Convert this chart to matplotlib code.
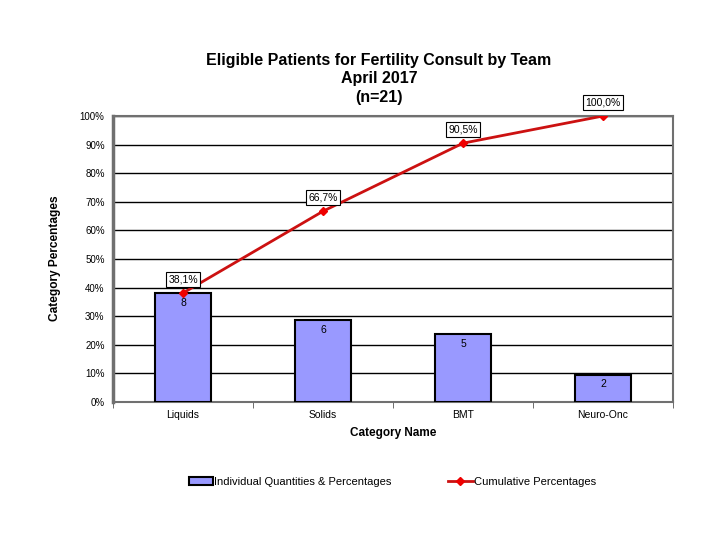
import matplotlib
matplotlib.use("Agg")
import matplotlib.pyplot as plt
import numpy as np

categories = ["Liquids", "Solids", "BMT", "Neuro-Onc"]
counts = [8, 6, 5, 2]
total = 21
pct = [c / total * 100 for c in counts]
cum_pct = [38.1, 66.7, 90.5, 100.0]
cum_labels = ["38,1%", "66,7%", "90,5%", "100,0%"]
yticks = [0, 10, 20, 30, 40, 50, 60, 70, 80, 90, 100]

plt.rcParams['font.family'] = ['Liberation Sans', 'DejaVu Sans']

fig = plt.figure(figsize=(7.2, 5.4), dpi=100)
ax = fig.add_axes([113/720, 1 - 402/540, 560/720, 286/540])

x = np.arange(len(categories))
bars = ax.bar(x, pct, width=0.4, color="#9999FF", edgecolor="black", linewidth=1.5,
              label="Individual Quantities & Percentages", zorder=3)
line, = ax.plot(x, cum_pct, color="#CC1111", linewidth=2, marker="D", markersize=4,
                markerfacecolor="#EE0000", markeredgecolor="#EE0000",
                label="Cumulative Percentages", zorder=4)

for xi, p, c in zip(x, pct, counts):
    ax.annotate(str(c), (xi, p), xytext=(0, -7), textcoords="offset points",
                ha="center", va="center", fontsize=7.5, zorder=5)

for xi, v, lab in zip(x, cum_pct, cum_labels):
    ax.annotate(lab, (xi, v), xytext=(0, 10), textcoords="offset points",
                ha="center", va="center", fontsize=7.5, zorder=6,
                bbox=dict(boxstyle="square,pad=0.25", facecolor="white", edgecolor="black", linewidth=0.8))

ax.set_xlim(-0.5, len(categories) - 0.5)
ax.set_ylim(0, 100)
ax.set_yticks(yticks)
ax.set_yticklabels([f"{t}%" for t in yticks], fontsize=7)
ax.yaxis.grid(True, color="black", linewidth=1, zorder=0)
ax.set_axisbelow(True)
ax.tick_params(axis="y", length=0, pad=6)
ax.set_xticks(x)
ax.set_xticklabels(categories, fontsize=7.5)
ax.tick_params(axis="x", length=0, pad=6)
ax.set_xticks(np.arange(-0.5, len(categories), 1), minor=True)
ax.tick_params(axis="x", which="minor", length=4, direction="out", color="#555555")

for s in ax.spines.values():
    s.set_color("#707070")
    s.set_linewidth(1.5)
ax.spines["left"].set_linewidth(2.5)

ax.set_xlabel("Category Name", fontsize=8.5, fontweight="bold", labelpad=5)
fig.text(55/720, 1 - 258/540, "Category Percentages", rotation=90, fontsize=8.6,
         fontweight="bold", ha="center", va="center")

fig.text(379/720, 1 - 79/540, "Eligible Patients for Fertility Consult by Team\nApril 2017\n(n=21)",
         ha="center", va="center", fontsize=11.5, fontweight="bold", linespacing=1.3)

fig.legend(handles=[bars], labels=["Individual Quantities & Percentages"],
           loc="center", bbox_to_anchor=(290/720, 1 - 482/540), frameon=False,
           fontsize=8, handlelength=2.2, handletextpad=0.1)
fig.legend(handles=[line], labels=["Cumulative Percentages"],
           loc="center", bbox_to_anchor=(522/720, 1 - 482/540), frameon=False,
           fontsize=8, handlelength=2.2, handletextpad=0.1)

fig.savefig("out.png", dpi=100)
